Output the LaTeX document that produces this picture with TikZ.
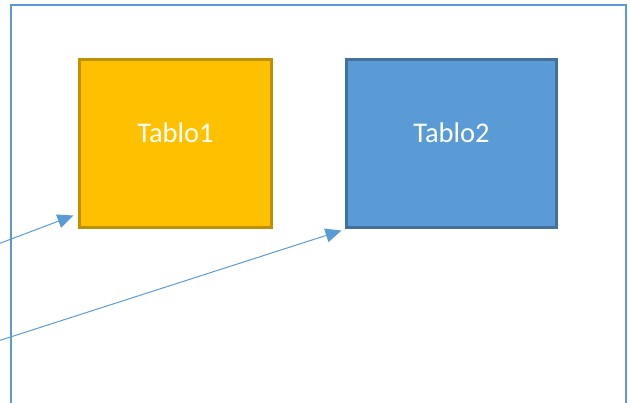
\documentclass[tikz,border=0pt]{standalone}
\usepackage{fontspec}
\setmainfont{Carlito}
\usetikzlibrary{arrows.meta}
\definecolor{tabloorange}{HTML}{FFC000}
\definecolor{tabloorangeline}{HTML}{BF9000}
\definecolor{tabloblue}{HTML}{5B9BD5}
\definecolor{tablobluelinie}{HTML}{41719C}
\newcommand{\tablotext}[1]{\raisebox{21pt}{#1}}
\begin{document}
\begin{tikzpicture}[x=1pt,y=-1pt,
		tablo/.style={shape=rectangle, line width=2.5pt, minimum height=168pt, text=white, font=\fontsize{28.5}{34}\selectfont, inner sep=0pt, outer sep=0pt},
		link/.style={draw=tabloblue, line width=1pt, -{Triangle[length=16pt,width=14pt]}}]
		\clip (0,0) rectangle (630,403);
		\draw[tabloblue, line width=2.6pt] (11,5) rectangle (626,430);
		\node at (175.5,143.5) [tablo, fill=tabloorange, draw=tabloorangeline, minimum width=192pt] (t1) {\tablotext{Tablo1}};
		\node at (451.5,143.5) [tablo, fill=tabloblue, draw=tablobluelinie, minimum width=210pt] (t2) {\tablotext{Tablo2}};
		\coordinate (a1) at (-2,244);
		\coordinate (a2) at (-2,341);
		\draw[link] (a1) -- ([xshift=-6pt,yshift=12pt]t1.south west);
		\draw[link] (a2) -- ([xshift=-5pt,yshift=-3pt]t2.south west);
		\end{tikzpicture}
\end{document}
